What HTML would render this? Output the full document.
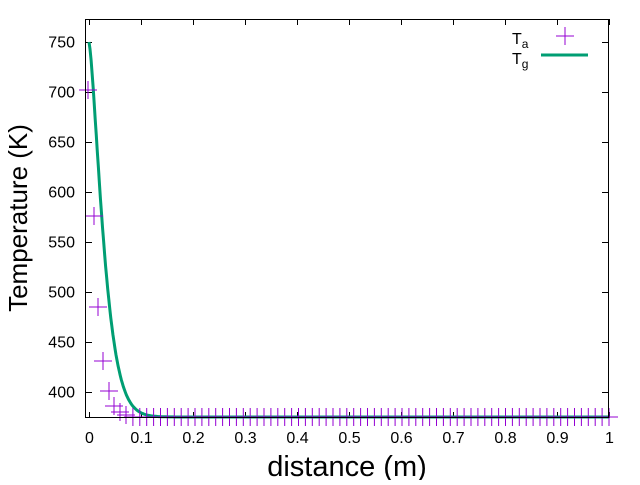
<!DOCTYPE html>
<html><head><meta charset="utf-8"><style>
body{margin:0;background:#fff}
svg text{font-family:"Liberation Sans",sans-serif}
</style></head><body>
<svg id="s" width="640" height="480" xmlns="http://www.w3.org/2000/svg">
<rect width="640" height="480" fill="#fff"/>
<g id="g"></g>
<rect x="85.5" y="19.5" width="523" height="398" fill="none" stroke="#000" stroke-width="1"/>
<text x="20" y="218" font-size="26" text-anchor="middle" transform="rotate(-90 20 218)" dominant-baseline="middle">Temperature (K)</text>
<text x="347" y="476" font-size="29" text-anchor="middle">distance (m)</text>
<text x="512" y="44" font-size="16">T<tspan font-size="12" dy="4">a</tspan></text>
<text x="512" y="64" font-size="16">T<tspan font-size="12" dy="4">g</tspan></text>
<line x1="541" y1="55" x2="588" y2="55" stroke="#009e73" stroke-width="3"/>
<path d="M556 36h18M565 27v18" stroke="#9400d3" stroke-width="1"/>
</svg>
<script>
var g=document.getElementById('g'),h='';
function X(v){return 89+520*v}function Y(t){return 42+(750-t)}
for(var t=400;t<=750;t+=50){var y=Y(t)+.5;h+='<line x1="85" y1="'+y+'" x2="92" y2="'+y+'" stroke="#000"/><line x1="602" y1="'+y+'" x2="608" y2="'+y+'" stroke="#000"/><text x="75" y="'+(y+5)+'" font-size="16" text-anchor="end">'+t+'</text>';}
var lab=['0','0.1','0.2','0.3','0.4','0.5','0.6','0.7','0.8','0.9','1'];
for(var i=0;i<=10;i++){var x=Math.round(X(i/10))+.5;h+='<line x1="'+x+'" y1="418" x2="'+x+'" y2="412" stroke="#000"/><line x1="'+x+'" y1="19" x2="'+x+'" y2="25" stroke="#000"/><text x="'+x+'" y="443" font-size="16" text-anchor="middle">'+lab[i]+'</text>';}
var p='';for(var v=0;v<=1.0001;v+=0.002){var T=375+375*Math.exp(-Math.pow(v/0.0342,1.4));p+=(p?'L':'M')+X(v).toFixed(1)+' '+Math.min(Y(T),417).toFixed(1);}
h+='<path d="'+p+'" fill="none" stroke="#009e73" stroke-width="3"/>';
var xs=[88,94,98,103,109,114,120,126],ta=[702,576,485,431,401,386,380,377];
var x0=126;while(x0<608){x0+=6.9;xs.push(x0);ta.push(375);}
for(var k=0;k<xs.length;k++){var x=xs[k],y=Math.min(Y(ta[k]),417);h+='<path d="M'+(x-9)+' '+y+'h18M'+x+' '+(y-9)+'v18" stroke="#9400d3" stroke-width="1"/>';}
g.innerHTML=h;
</script>
</body></html>
